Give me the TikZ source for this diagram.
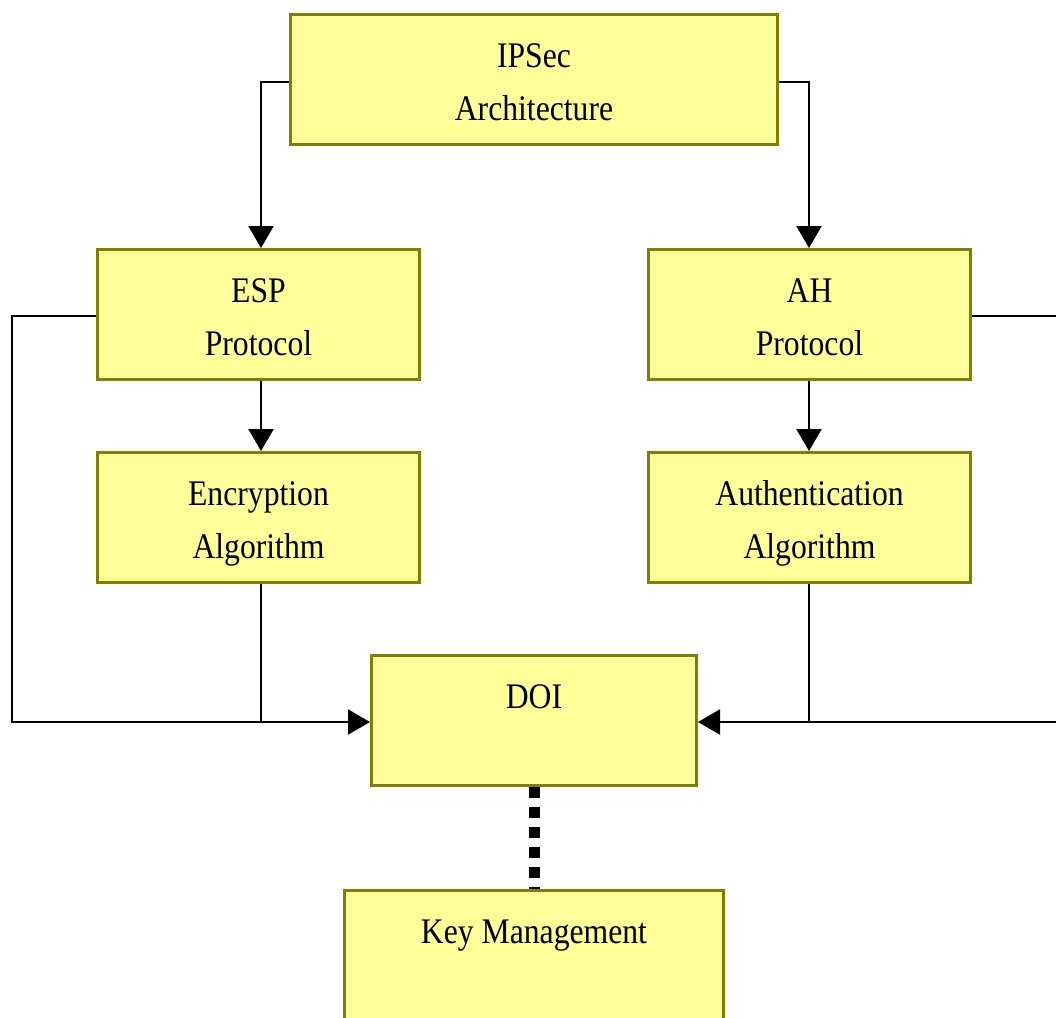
\documentclass[tikz,border=0pt]{standalone}
\usepackage{fontspec}
\setmainfont{Liberation Serif}[FakeStretch=0.88]
\usetikzlibrary{arrows.meta}
\definecolor{boxfill}{HTML}{FFFF99}
\definecolor{boxline}{HTML}{808000}
% two text lines with a fixed top and bottom, so every box sets its text alike
\newcommand\boxtext[2]{\rule{0pt}{37pt}#1\\#2\rule[-8pt]{0pt}{8pt}}
\begin{document}
\begin{tikzpicture}[x=1pt,y=-1pt,
  block/.style={draw=boxline, fill=boxfill, line width=3pt, inner sep=0pt,
    minimum height=130pt, align=center,
    font=\fontsize{36}{53}\selectfont},
  link/.style={draw=black, line width=2.2pt},
  tip/.style={-{Triangle[length=22pt,width=25pt]}},
  keylink/.style={draw=black, line width=11pt, dash pattern=on 11pt off 9pt}]
\useasboundingbox (0,0) rectangle (1056,1017);

% boxes
\node[block, minimum width=487pt] (ipsec) at (534,79) {\boxtext{IPSec}{Architecture}};
\node[block, minimum width=322pt] (esp) at (258.5,314.5) {\boxtext{ESP}{Protocol}};
\node[block, minimum width=322pt] (ah) at (809.5,314.5) {\boxtext{AH}{Protocol}};
\node[block, minimum width=322pt] (enc) at (258.5,517.5) {\boxtext{Encryption}{Algorithm}};
\node[block, minimum width=322pt] (auth) at (809.5,517.5) {\boxtext{Authentication}{Algorithm}};
\node[block, minimum width=325pt] (doi) at (534,720.5) {\boxtext{DOI}{}};
\node[block, minimum width=379pt] (key) at (534,955.5) {\boxtext{Key Management}{}};

% junction points on the outer loops
\coordinate (lcol) at (261,0);
\coordinate (rcol) at (809,0);
\coordinate (lbus) at (12,722);
\coordinate (rbus) at (1075,722);
\coordinate (redge) at (1075,316);

% architecture to protocols
\draw[link, tip] ([yshift=-3pt]ipsec.west) -| (lcol |- esp.north);
\draw[link, tip] ([yshift=-3pt]ipsec.east) -| (rcol |- ah.north);

% protocols to algorithms
\draw[link, tip] (lcol |- esp.south) -- (lcol |- enc.north);
\draw[link, tip] (rcol |- ah.south) -- (rcol |- auth.north);

% protocols and algorithms to DOI
\draw[link, tip] ([yshift=-1.5pt]esp.west) -| (lbus) -- (lbus -| doi.west);
\draw[link] (lcol |- enc.south) -- (lcol |- lbus);
\draw[link] ([yshift=-1.5pt]ah.east) -- (redge) -- (rbus);
\draw[link, tip] (rbus) -- (rbus -| doi.east);
\draw[link] (rcol |- auth.south) -- (rcol |- rbus);

% DOI to key management
\draw[keylink] (doi.south) -- (key.north);
\end{tikzpicture}
\end{document}
